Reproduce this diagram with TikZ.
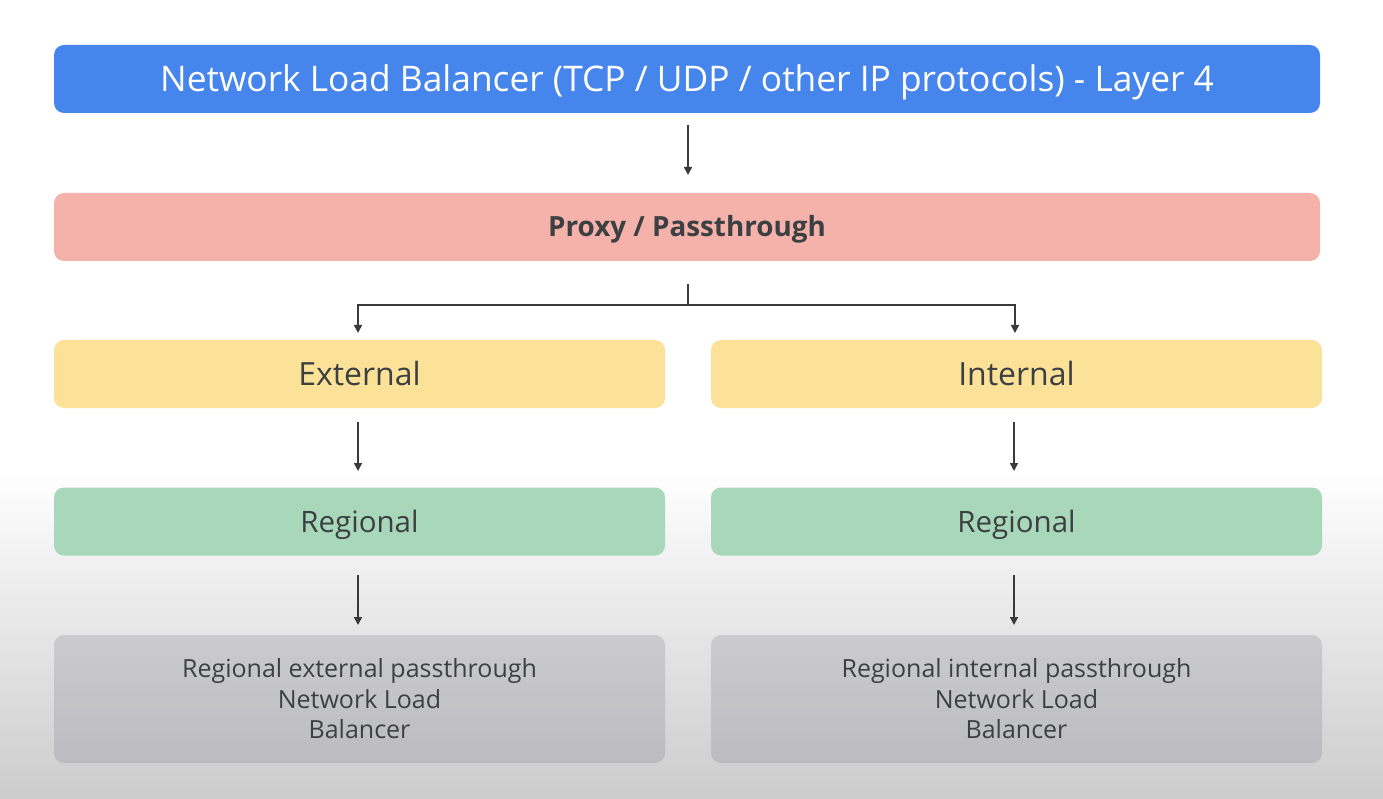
\documentclass[tikz,border=0pt]{standalone}
\usepackage{fontspec}
\setmainfont{Open Sans}
\usetikzlibrary{arrows.meta}
\definecolor{nblue}{HTML}{4686EC}
\definecolor{npink}{HTML}{F5B2AA}
\definecolor{nyellow}{HTML}{FCE199}
\definecolor{ngreen}{HTML}{A8D7B9}
\definecolor{ngrayA}{HTML}{CBCBCE}
\definecolor{ngrayB}{HTML}{BCBCC0}
\definecolor{ntext}{HTML}{3C4043}
\definecolor{narrow}{HTML}{3A3A3A}
\tikzset{
  box/.style={rounded corners=10pt, minimum height=68pt, inner sep=0pt, align=center, text=ntext},
  one/.style={text height=#1, text depth=0pt},
  full/.style={box, minimum width=1266pt},
  half/.style={box, minimum width=611pt},
  conn/.style={draw=narrow, line width=1.6pt, -{Triangle[length=8pt,width=8pt]}},
  plain/.style={draw=narrow, line width=1.6pt}
}
\begin{document}
\begin{tikzpicture}[x=1pt,y=-1pt]
\useasboundingbox (0,0) rectangle (1383,799);
\fill[white] (0,0) rectangle (1383,470);
\shade[top color=white, bottom color=black!20] (0,470) rectangle (1383,799);
% boxes
\node[full, one=25.2pt, fill=nblue, text=white, font=\fontsize{35.3}{40}\selectfont] (nlb) at (687,79) {Network Load Balancer (TCP / UDP / other IP protocols) - Layer 4};
\node[full, one=19.9pt, fill=npink, font=\fontsize{27.8}{32}\selectfont\bfseries] (proxy) at (687,227) {Proxy / Passthrough};
\node[half, one=22.8pt, fill=nyellow, font=\fontsize{32}{36}\selectfont] (ext) at (359.5,374) {External};
\node[half, one=22.8pt, fill=nyellow, font=\fontsize{32}{36}\selectfont] (int) at (1016.5,374) {Internal};
\node[half, one=21pt, fill=ngreen, font=\fontsize{29.5}{34}\selectfont] (regL) at (359.5,521.5) {Regional};
\node[half, one=21pt, fill=ngreen, font=\fontsize{29.5}{34}\selectfont] (regR) at (1016.5,521.5) {Regional};
\node[half, minimum height=128pt, top color=ngrayA, bottom color=ngrayB, font=\fontsize{25}{30.5}\selectfont] (nlbL) at (359.5,699) {Regional external passthrough\\Network Load\\Balancer};
\node[half, minimum height=128pt, top color=ngrayA, bottom color=ngrayB, font=\fontsize{25}{30.5}\selectfont] (nlbR) at (1016.5,699) {Regional internal passthrough\\Network Load\\Balancer};
% connectors
\coordinate (a1s) at (688,125);
\coordinate (a1e) at (688,175);
\draw[conn] (a1s) -- (a1e);
\coordinate (bs) at (688,284);
\coordinate (bm) at (688,305);
\coordinate (bl) at (358,305);
\coordinate (br) at (1015,305);
\coordinate (ble) at (358,333);
\coordinate (bre) at (1015,333);
\draw[plain] (bs) -- (bm);
\draw[conn] (bm) -- (bl) -- (ble);
\draw[conn] (bm) -- (br) -- (bre);
\coordinate (l1s) at (358,422);
\coordinate (l1e) at (358,471);
\coordinate (r1s) at (1014,422);
\coordinate (r1e) at (1014,471);
\draw[conn] (l1s) -- (l1e);
\draw[conn] (r1s) -- (r1e);
\coordinate (l2s) at (358,575);
\coordinate (l2e) at (358,625);
\coordinate (r2s) at (1014,575);
\coordinate (r2e) at (1014,625);
\draw[conn] (l2s) -- (l2e);
\draw[conn] (r2s) -- (r2e);
\end{tikzpicture}
\end{document}
